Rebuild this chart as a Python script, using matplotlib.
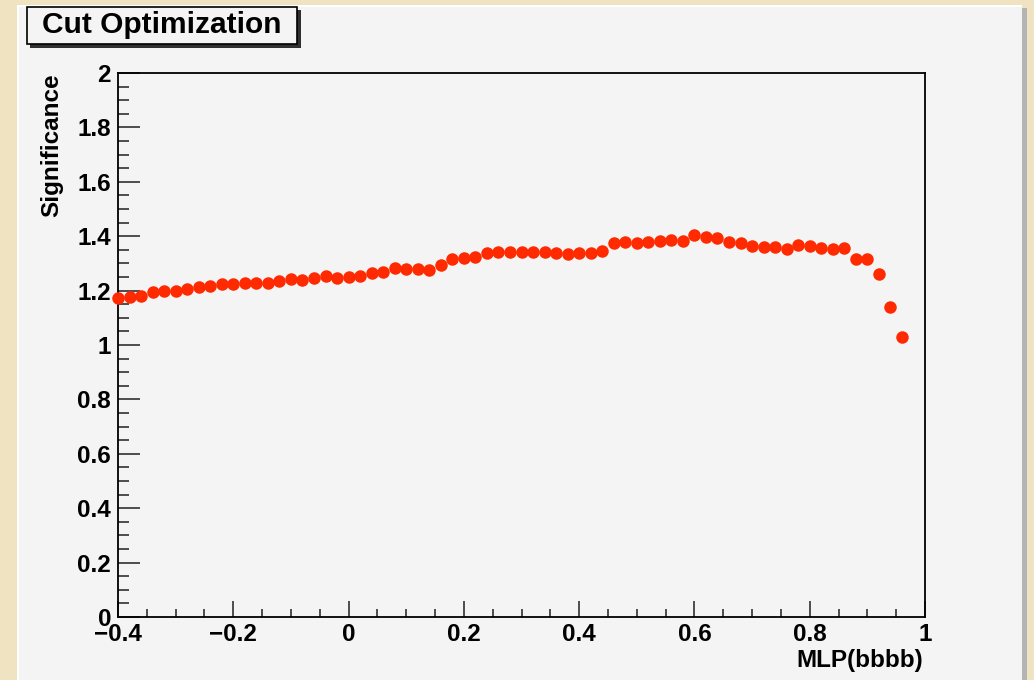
import matplotlib
matplotlib.use("Agg")
import matplotlib.pyplot as plt
import matplotlib.transforms as mtransforms
from matplotlib.patches import Rectangle
from matplotlib.ticker import MultipleLocator

W, H = 1034, 680

TITLE = "Cut Optimization"
X_LABEL = "MLP(bbbb)"
Y_LABEL = "Significance"

mlp_cut = [
    -0.40, -0.38, -0.36, -0.34, -0.32, -0.30, -0.28, -0.26, -0.24, -0.22,
    -0.20, -0.18, -0.16, -0.14, -0.12, -0.10, -0.08, -0.06, -0.04, -0.02,
    0.00, 0.02, 0.04, 0.06, 0.08, 0.10, 0.12, 0.14, 0.16, 0.18,
    0.20, 0.22, 0.24, 0.26, 0.28, 0.30, 0.32, 0.34, 0.36, 0.38,
    0.40, 0.42, 0.44, 0.46, 0.48, 0.50, 0.52, 0.54, 0.56, 0.58,
    0.60, 0.62, 0.64, 0.66, 0.68, 0.70, 0.72, 0.74, 0.76, 0.78,
    0.80, 0.82, 0.84, 0.86, 0.88, 0.90, 0.92, 0.94, 0.96,
]
significance = [
    1.172, 1.175, 1.181, 1.194, 1.199, 1.199, 1.205, 1.212, 1.218, 1.223,
    1.223, 1.229, 1.229, 1.229, 1.235, 1.241, 1.239, 1.247, 1.253, 1.247,
    1.251, 1.255, 1.266, 1.270, 1.282, 1.278, 1.278, 1.275, 1.294, 1.315,
    1.319, 1.322, 1.339, 1.341, 1.341, 1.341, 1.342, 1.343, 1.339, 1.333,
    1.339, 1.339, 1.347, 1.374, 1.379, 1.376, 1.378, 1.382, 1.386, 1.383,
    1.404, 1.398, 1.392, 1.379, 1.376, 1.364, 1.362, 1.362, 1.352, 1.368,
    1.364, 1.355, 1.353, 1.358, 1.315, 1.315, 1.260, 1.141, 1.030,
]

FONT = "Liberation Sans"
BEIGE = "#efe3c2"
PANEL = "#f4f4f4"
RED = "#ff2a00"


def px_rect(x0, y0, x1, y1, **kw):
    # rectangle given in pixel coords (origin top-left)
    return Rectangle((x0 / W, 1 - y1 / H), (x1 - x0) / W, (y1 - y0) / H,
                     transform=fig.transFigure, **kw)


def fmt_tick(v, pos):
    if abs(v - round(v)) < 1e-9:
        s = f"{v:.0f}"
    else:
        s = f"{v:.1f}"
    return s.replace("-", "\u2212")


fig = plt.figure(figsize=(W / 100, H / 100), dpi=100)
fig.patch.set_facecolor(BEIGE)

# canvas pad with highlight and shadow edges (drawn below the axes)
fig.add_artist(px_rect(1022, 8, 1027, H + 5, facecolor="#b4b4b4", edgecolor="none", zorder=-10))
fig.add_artist(px_rect(17, 5, 1022, H + 5, facecolor="white", edgecolor="none", zorder=-9))
fig.add_artist(px_rect(19, 7, 1022, H + 5, facecolor=PANEL, edgecolor="none", zorder=-8))

# title box
fig.add_artist(px_rect(30, 10, 301, 48, facecolor="#303030", edgecolor="none", zorder=-7))
fig.add_artist(px_rect(27, 7, 297, 44, facecolor=PANEL, edgecolor="black", linewidth=1.2, zorder=-6))
fig.text(42 / W, 1 - 25 / H, TITLE, fontsize=21.5, fontweight="bold", family=FONT,
         ha="left", va="center")

ax = fig.add_axes([118 / W, 1 - 617 / H, (925 - 118) / W, (617 - 73) / H])
ax.set_facecolor(PANEL)
ax.plot(mlp_cut, significance, linestyle="none", marker="o", markersize=9,
        color=RED, markeredgewidth=0, zorder=3, clip_on=False)

ax.set_xlim(-0.4, 1.0)
ax.set_ylim(0, 2)
ax.xaxis.set_major_locator(MultipleLocator(0.2))
ax.xaxis.set_minor_locator(MultipleLocator(0.05))
ax.yaxis.set_major_locator(MultipleLocator(0.2))
ax.yaxis.set_minor_locator(MultipleLocator(0.05))
ax.xaxis.set_major_formatter(fmt_tick)
ax.yaxis.set_major_formatter(fmt_tick)

ax.tick_params(axis="both", which="both", direction="in", top=False, right=False,
               width=1.1, color="#202020")
ax.tick_params(axis="y", which="major", length=16, pad=5)
ax.tick_params(axis="y", which="minor", length=8)
ax.tick_params(axis="x", which="major", length=11.5, pad=4)
ax.tick_params(axis="x", which="minor", length=6)

fig.canvas.draw()
for lab in ax.get_xticklabels() + ax.get_yticklabels():
    lab.set_fontsize(17.5)
    lab.set_fontweight("bold")
    lab.set_family(FONT)
# the "0" on the y axis sits a little higher, as in the original
ylabs = ax.get_yticklabels()
if ylabs:
    ylabs[0].set_transform(ylabs[0].get_transform() +
                           mtransforms.ScaledTranslation(0, 6 / 100, fig.dpi_scale_trans))
for sp in ax.spines.values():
    sp.set_linewidth(1.3)
    sp.set_color("black")

fig.text(923 / W, 1 - 660 / H, X_LABEL, fontsize=17.5, fontweight="bold", family=FONT,
         ha="right", va="center")
fig.text(52 / W, 1 - 73 / H, Y_LABEL, fontsize=17.5, fontweight="bold", family=FONT,
         rotation=90, ha="center", va="top")

fig.savefig("out.png", dpi=100, facecolor=fig.get_facecolor())
